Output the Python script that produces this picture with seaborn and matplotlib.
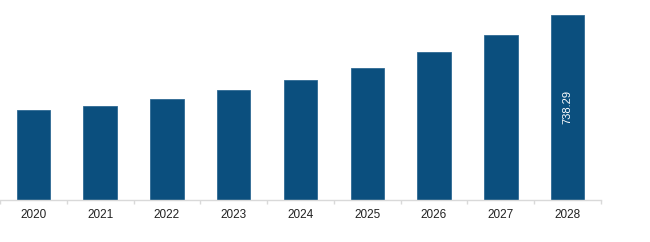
import matplotlib
matplotlib.use("Agg")
import matplotlib.pyplot as plt
import seaborn as sns
import pandas as pd
import numpy as np

years = ["2020", "2021", "2022", "2023", "2024", "2025", "2026", "2027", "2028"]
values = [359, 376, 404, 439, 479, 528, 589, 658, 738.29]
label_text = "738.29"

sns.set_theme(style="white")
plt.rcParams['font.family'] = ['Liberation Sans', 'DejaVu Sans']

df = pd.DataFrame({"year": years, "value": values})

fig = plt.figure(figsize=(6.5, 2.42), dpi=100)
ax = fig.add_axes([0.0, 42 / 242, 601 / 650, 200 / 242])
sns.barplot(data=df, x="year", y="value", color="#0b4f7e", width=0.5,
            saturation=1, ax=ax, edgecolor="#2f6a94", linewidth=0.6)

ax.set_xlim(-0.5, 8.5)
ax.set_ylim(0, 798)
ax.set_xlabel("")
ax.set_ylabel("")
ax.set_yticks([])
for s in ["top", "right", "left"]:
    ax.spines[s].set_visible(False)
ax.spines["bottom"].set_color("#d9d9d9")
ax.spines["bottom"].set_linewidth(1)

ax.tick_params(axis="x", which="major", length=0, pad=6.5, labelsize=8.5, labelcolor="#222222")
ax.set_xticks(np.arange(-0.5, 9, 1), minor=True)
ax.tick_params(axis="x", which="minor", length=3, color="#d9d9d9", width=1, bottom=True)

last = len(values) - 1
ax.text(last, values[last] / 2, label_text, rotation=90, color="white",
        ha="center", va="center", fontsize=8)

fig.savefig("out.png", dpi=100)
